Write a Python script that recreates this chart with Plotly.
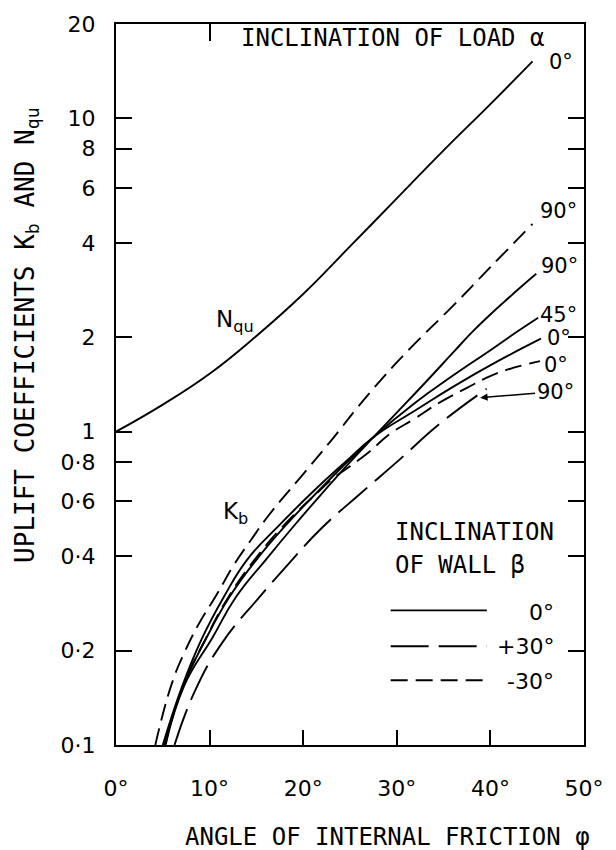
import math
import plotly.graph_objects as go

# ---------------- data ----------------
phi_nqu = [0, 5, 10, 15, 20, 25, 30, 35, 40, 44.5]
nqu = [1.0, 1.22, 1.53, 2.02, 2.75, 3.9, 5.55, 7.9, 11.1, 15.2]

# wall -30 deg, load 90 deg (short dashes)
phi_m30_a90 = [4.2, 5.9, 7.3, 8.9, 10.7, 12.7, 14.4, 16.3, 19.8, 22.9, 27.1, 31.4, 36, 40, 44.5]
kb_m30_a90 = [0.1, 0.155, 0.197, 0.245, 0.30, 0.38, 0.45, 0.54, 0.72, 0.93, 1.33, 1.84, 2.52, 3.35, 4.6]

# wall 0 deg, load 90 deg (solid)
phi_0_a90 = [5.3, 7.3, 10.3, 12.8, 16.0, 19.0, 22.3, 25.0, 27.5, 30, 33, 36.1, 38.2, 41.5, 44.9]
kb_0_a90 = [0.1, 0.155, 0.22, 0.296, 0.39, 0.5, 0.65, 0.8, 0.96, 1.15, 1.43, 1.80, 2.1, 2.6, 3.19]

# wall 0 deg, load 45 deg (solid)
phi_0_a45 = [5.15, 7.15, 9.6, 12.1, 15.0, 18.2, 21.7, 24.7, 27.5, 32, 36, 40, 42.8, 45.1]
kb_0_a45 = [0.1, 0.153, 0.218, 0.296, 0.39, 0.505, 0.65, 0.80, 0.96, 1.24, 1.51, 1.82, 2.08, 2.31]

# wall 0 deg, load 0 deg (solid)
phi_0_a0 = [5.0, 7.0, 9.1, 11.5, 14.0, 17.5, 21.2, 24.5, 27.5, 32, 36, 40.5, 45.4]
kb_0_a0 = [0.1, 0.152, 0.216, 0.296, 0.39, 0.505, 0.65, 0.80, 0.96, 1.17, 1.39, 1.66, 1.98]

# wall -30 deg, load 0 deg (short dashes)
phi_m30_a0 = [5.2, 7.1, 9.5, 12.0, 14.8, 18.0, 21.8, 23.2, 25, 27.1, 29.3, 31.9, 34.6, 37.5, 40.1, 42.5, 45.3]
kb_m30_a0 = [0.1, 0.153, 0.216, 0.296, 0.39, 0.505, 0.65, 0.71, 0.775, 0.865, 0.985, 1.10, 1.24, 1.38, 1.51, 1.60, 1.68]

# wall +30 deg, load 90 deg (long dashes)
phi_p30_a90 = [6.25, 8.4, 11.3, 15.3, 18.1, 21.9, 26, 30.2, 34.6, 39.6]
kb_p30_a90 = [0.1, 0.148, 0.211, 0.296, 0.369, 0.49, 0.63, 0.81, 1.06, 1.37]

x_tickvals = [0, 10, 20, 30, 40, 50]
x_ticktext = ["0°", "10°", "20°", "30°", "40°", "50°"]
y_tickvals = [0.1, 0.2, 0.4, 0.6, 0.8, 1, 2, 4, 6, 8, 10, 20]
y_ticktext = ["0·1", "0·2", "0·4", "0·6", "0·8", "1", "2", "4", "6", "8", "10", "20"]
y_right_ticks = [0.2, 0.4, 0.6, 0.8, 1, 2, 4, 6, 8, 10]

# ---------------- styling ----------------
W, H = 616, 850
L, R, T, B = 116, 28, 22, 105
PW, PH = W - L - R, H - T - B
MONO = "DejaVu Sans Mono"
SANS = "DejaVu Sans"
SHORT = "17px,8px"
LONG = "38px,10px"
LW = 1.9


def P(px, py):
    return dict(x=(px - L) / PW, y=(H - B - py) / PH, xref="paper", yref="paper")


fig = go.Figure()


def curve(x, y, dash="solid"):
    fig.add_trace(go.Scatter(x=x, y=y, mode="lines",
                             line=dict(color="black", width=LW, dash=dash, shape="spline", smoothing=1.3),
                             showlegend=False, hoverinfo="skip"))


curve(phi_nqu, nqu)
curve(phi_m30_a90, kb_m30_a90, SHORT)
curve(phi_0_a90, kb_0_a90)
curve(phi_0_a45, kb_0_a45)
curve(phi_0_a0, kb_0_a0)
curve(phi_m30_a0, kb_m30_a0, SHORT)
curve(phi_p30_a90, kb_p30_a90, LONG)

# helper trace for the overlay axes (top / right ticks)
fig.add_trace(go.Scatter(x=[None], y=[None], xaxis="x2", yaxis="y2", showlegend=False, hoverinfo="skip"))

yr = [-1, math.log10(20)]
fig.update_layout(
    width=W, height=H,
    margin=dict(l=L, r=R, t=T, b=B),
    paper_bgcolor="white", plot_bgcolor="white",
    showlegend=False,
    xaxis=dict(range=[0, 50], tickvals=x_tickvals, ticktext=x_ticktext,
               ticks="inside", ticklen=15, tickwidth=2, tickcolor="black",
               showline=True, linewidth=2.2, linecolor="black", mirror=True,
               showgrid=False, zeroline=False, ticklabelstandoff=22,
               tickfont=dict(family=SANS, size=22, color="black")),
    yaxis=dict(type="log", range=yr, tickvals=y_tickvals, ticktext=y_ticktext,
               ticks="inside", ticklen=16, tickwidth=2, tickcolor="black",
               showline=True, linewidth=2.2, linecolor="black", mirror=True,
               showgrid=False, zeroline=False, ticklabelstandoff=14,
               tickfont=dict(family=SANS, size=22, color="black")),
    xaxis2=dict(overlaying="x", side="top", range=[0, 50], tickvals=[10],
                ticks="inside", ticklen=17, tickwidth=2, tickcolor="black",
                showticklabels=False, showgrid=False, zeroline=False, showline=False),
    yaxis2=dict(overlaying="y", side="right", type="log", range=yr, tickvals=y_right_ticks,
                ticks="inside", ticklen=16, tickwidth=2, tickcolor="black",
                showticklabels=False, showgrid=False, zeroline=False, showline=False),
)

ann = []


def text(t, px, py, size=21, family=SANS, xanchor="center", **kw):
    d = P(px, py)
    d.update(text=t, showarrow=False, xanchor=xanchor, yanchor="middle",
             font=dict(family=family, size=size, color="black"))
    d.update(kw)
    ann.append(d)


# titles
text("INCLINATION OF LOAD α", 240, 36, size=24, family=MONO, xanchor="left")
text("ANGLE OF INTERNAL FRICTION φ", 390, 837, size=24, family=MONO)
text("UPLIFT COEFFICIENTS K<sub>b</sub> AND N<sub>qu</sub>", 25, 334, size=26, family=MONO, textangle=-90)

# curve names
text("N<sub>qu</sub>", 236, 320, size=23)
text("K<sub>b</sub>", 237, 512, size=23)

# load inclination labels
text("0°", 565, 60)
text("90°", 562, 210)
text("90°", 563, 265)
text("45°", 562, 314)
text("0°", 563, 337)
text("0°", 560, 364)
ann.append(dict(x=38.9, y=(431 - 397) / 314, xref="x", yref="y", text="90°",
                showarrow=True, ax=75, ay=-6, arrowhead=2, arrowsize=1, arrowwidth=1.5,
                arrowcolor="black", font=dict(family=SANS, size=21, color="black")))

# legend
text("INCLINATION", 395, 531, size=24, family=MONO, xanchor="left")
text("OF WALL β", 395, 565, size=24, family=MONO, xanchor="left")
text("0°", 560, 612, size=22, xanchor="right")
text("+30°", 560, 646, size=22, xanchor="right")
text("-30°", 560, 681, size=22, xanchor="right")

shapes = []
for py, dash in [(610, "solid"), (646, LONG), (680, SHORT)]:
    a = P(393, py)
    b = P(490, py)
    shapes.append(dict(type="line", xref="paper", yref="paper", x0=a["x"], y0=a["y"],
                       x1=b["x"], y1=b["y"], line=dict(color="black", width=LW, dash=dash)))

fig.update_layout(annotations=ann, shapes=shapes)
fig.write_html("out.html")
